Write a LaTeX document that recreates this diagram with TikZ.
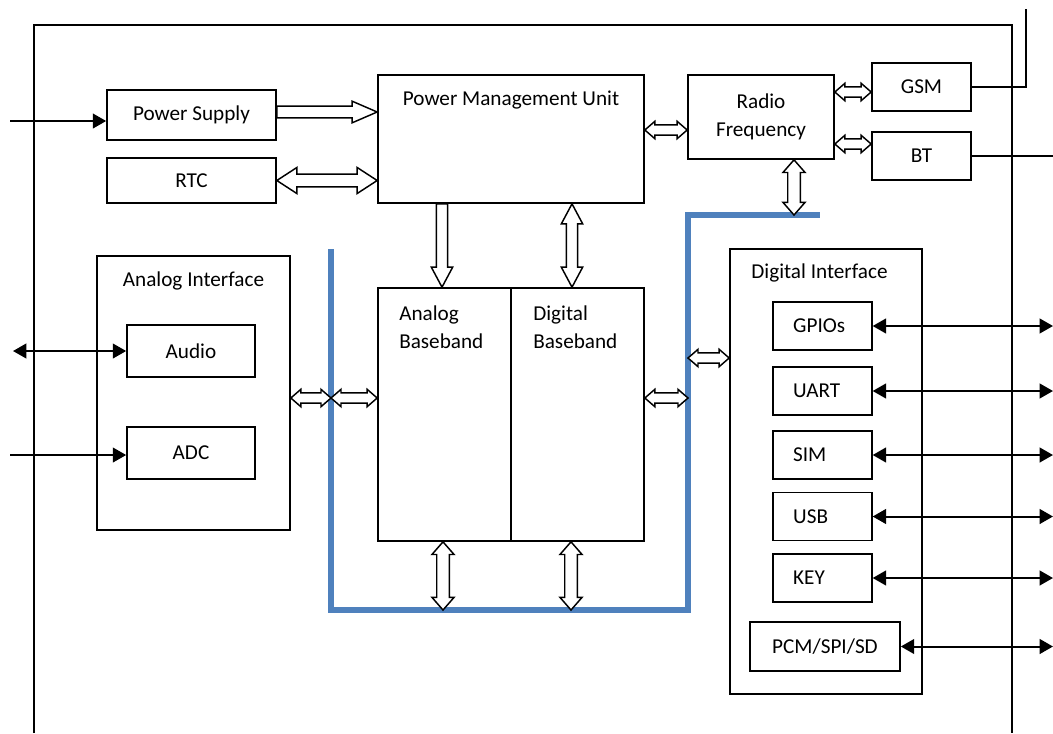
\documentclass[tikz,border=0pt]{standalone}
\usepackage{fontspec}
\setmainfont{Carlito}
\usepackage{xcolor}
\usepackage{tikz}
\usetikzlibrary{calc,arrows.meta}

\definecolor{busblue}{RGB}{79,129,189}

% hollow (block) arrow sizes
\newcommand\arlen{7.5pt}
\newcommand\arhead{6.5pt}
\newcommand\arshaft{3.8pt}

\tikzset{
  blk/.style={draw, line width=1.25pt, inner sep=0pt},
  port/.style={blk, minimum height=36pt, inner xsep=15pt, text width=44pt, align=left},
  frame/.style={line width=1.4pt},
  bus/.style={draw=busblue, line width=3.8pt},
  sarrow/.style={line width=1.5pt, -{Triangle[length=10pt,width=11pt]}},
  sboth/.style={line width=1.5pt, {Triangle[length=10pt,width=11pt]}-{Triangle[length=10pt,width=11pt]}},
  arlen/.code={\renewcommand\arlen{#1}},
  arhead/.code={\renewcommand\arhead{#1}},
  arshaft/.code={\renewcommand\arshaft{#1}},
  bigarrow/.style={arlen=15pt, arhead=8pt, arshaft=4.2pt},
  midarrow/.style={arlen=9.5pt, arhead=8.3pt, arshaft=4.7pt},
  hollow/.style={draw, fill=white, line width=1.1pt, to path={
    -- ($(\tikztostart)!\arshaft!90:(\tikztotarget)$)
    -- ($(\tikztotarget)!\arlen!(\tikztostart)!\arshaft!90:(\tikztotarget)$)
    -- ($(\tikztotarget)!\arlen!(\tikztostart)!\arhead!90:(\tikztotarget)$)
    -- (\tikztotarget)
    -- ($(\tikztotarget)!\arlen!(\tikztostart)!\arhead!-90:(\tikztotarget)$)
    -- ($(\tikztotarget)!\arlen!(\tikztostart)!\arshaft!-90:(\tikztotarget)$)
    -- ($(\tikztostart)!\arshaft!-90:(\tikztotarget)$)
    -- cycle}},
  hollow both/.style={draw, fill=white, line width=1.1pt, to path={
    -- ($(\tikztostart)!\arlen!(\tikztotarget)!\arhead!90:(\tikztotarget)$)
    -- ($(\tikztostart)!\arlen!(\tikztotarget)!\arshaft!90:(\tikztotarget)$)
    -- ($(\tikztotarget)!\arlen!(\tikztostart)!\arshaft!90:(\tikztotarget)$)
    -- ($(\tikztotarget)!\arlen!(\tikztostart)!\arhead!90:(\tikztotarget)$)
    -- (\tikztotarget)
    -- ($(\tikztotarget)!\arlen!(\tikztostart)!\arhead!-90:(\tikztotarget)$)
    -- ($(\tikztotarget)!\arlen!(\tikztostart)!\arshaft!-90:(\tikztotarget)$)
    -- ($(\tikztostart)!\arlen!(\tikztotarget)!\arshaft!-90:(\tikztotarget)$)
    -- ($(\tikztostart)!\arlen!(\tikztotarget)!\arhead!-90:(\tikztotarget)$)
    -- cycle}},
}

\begin{document}
\begin{tikzpicture}[x=0.75pt,y=0.75pt,yscale=-1,xscale=1,
  font=\fontsize{15.9}{20.7}\selectfont]
\useasboundingbox (0,0) rectangle (1053,733);

%Outer frame
\draw[frame] (34,733) -- (34,25) -- (1012,25) -- (1012,733);

%Power part
\node[blk, minimum width=126.75pt, minimum height=37.5pt] (ps) at (191.5,115) {Power Supply};
\node[blk, minimum width=126.75pt, minimum height=33.75pt] (rtc) at (191.5,180.5) {RTC};
\node[blk, minimum width=199.5pt, minimum height=96pt] (pmu) at (511,139) {};
\node (pmut) at (511,100) {Power Management Unit};

%Radio part
\node[blk, minimum width=109.5pt, minimum height=63pt, align=center] (rf) at (761,117) {Radio\\Frequency};
\node[blk, minimum width=74.25pt, minimum height=36pt] (gsm) at (921.5,87) {GSM};
\node[blk, minimum width=74.25pt, minimum height=36pt] (bt) at (921.5,156) {BT};
\coordinate (gsmout) at (1026,9);
\coordinate (btout) at (1053,156);
\draw[frame] (gsm.east) -| (gsmout);
\draw[frame] (bt.east) -- (btout);

%Baseband
\node[blk, minimum width=99.75pt, minimum height=189.75pt] (ab) at (444.5,414.5) {};
\node[blk, minimum width=99.75pt, minimum height=189.75pt] (db) at (577.5,414.5) {};
\node[anchor=north west, align=left, inner sep=0pt] (abt) at (399,306) {Analog\\Baseband};
\node[anchor=north west, align=left, inner sep=0pt] (dbt) at (533,306) {Digital\\Baseband};

%Analog interface
\node[blk, minimum width=144.75pt, minimum height=205.5pt] (ai) at (193.5,393) {};
\node (ait) at (193.5,281) {Analog Interface};
\node[blk, minimum width=96pt, minimum height=39pt] (audio) at (191,351) {Audio};
\node[blk, minimum width=96pt, minimum height=39pt] (adc) at (191,453) {ADC};

%Digital interface
\node[blk, minimum width=144pt, minimum height=333.75pt] (di) at (826,471.5) {};
\node (dit) at (819.5,273) {Digital Interface};
\node[port] (gpio) at (822.5,326) {GPIOs};
\node[port] (uart) at (822.5,391) {UART};
\node[port] (sim) at (822.5,455) {SIM};
\node[port] (usb) at (822.5,516.5) {USB};
\node[port] (key) at (822.5,578) {KEY};
\node[blk, minimum width=112.5pt, minimum height=36.75pt] (pcm) at (825,646.5) {PCM/SPI/SD};

%Bus
\coordinate (busA) at (331,249);
\coordinate (busB) at (331,610);
\coordinate (busC) at (688,610);
\coordinate (busD) at (688,215);
\coordinate (busE) at (820,215);
\draw[bus] (busA) -- (busB) -- (busC) -- (busD) -- (busE);

%Hollow arrows
\draw[hollow, arlen=18.75pt, arhead=8.1pt, arshaft=4.4pt] (ps.east |- 0,112) to (pmu.west |- 0,112);
\draw[hollow both, arlen=15pt, arhead=9.75pt, arshaft=4.75pt] (rtc.east) to (rtc.east -| pmu.west);
\draw[hollow both] (pmu.east |- 0,130) to (rf.west |- 0,130);
\draw[hollow both] (rf.east |- 0,92) to (gsm.west |- 0,92);
\draw[hollow both] (rf.east |- 0,144) to (bt.west |- 0,144);
\draw[hollow both, midarrow] (794,0 |- rf.south) to (794,0 |- busE);
\draw[hollow, bigarrow] (442,0 |- pmu.south) to (442,0 |- ab.north);
\draw[hollow both, bigarrow] (572,0 |- pmu.south) to (572,0 |- db.north);
\draw[hollow both] (ai.east |- 0,398) to (busA |- 0,398);
\draw[hollow both] (busA |- 0,398) to (ab.west |- 0,398);
\draw[hollow both] (db.east |- 0,398) to (busC |- 0,398);
\draw[hollow both] (busC |- 0,358) to (di.west |- 0,358);
\draw[hollow both, midarrow] (443,0 |- ab.south) to (443,0 |- busB);
\draw[hollow both, midarrow] (571,0 |- db.south) to (571,0 |- busB);

%Solid arrows
\coordinate (pwrin) at (10,121);
\coordinate (audioext) at (13,351);
\coordinate (adcin) at (10,455);
\coordinate (portout) at (1053,0);
\draw[sarrow] (pwrin) -- (pwrin -| ps.west);
\draw[sboth] (audioext) -- (audio.west);
\draw[sarrow] (adcin) -- (adcin -| adc.west);
\foreach \p in {gpio,uart,sim,usb,key,pcm}
  \draw[sboth] (\p.east) -- (\p.east -| portout);

\end{tikzpicture}
\end{document}
